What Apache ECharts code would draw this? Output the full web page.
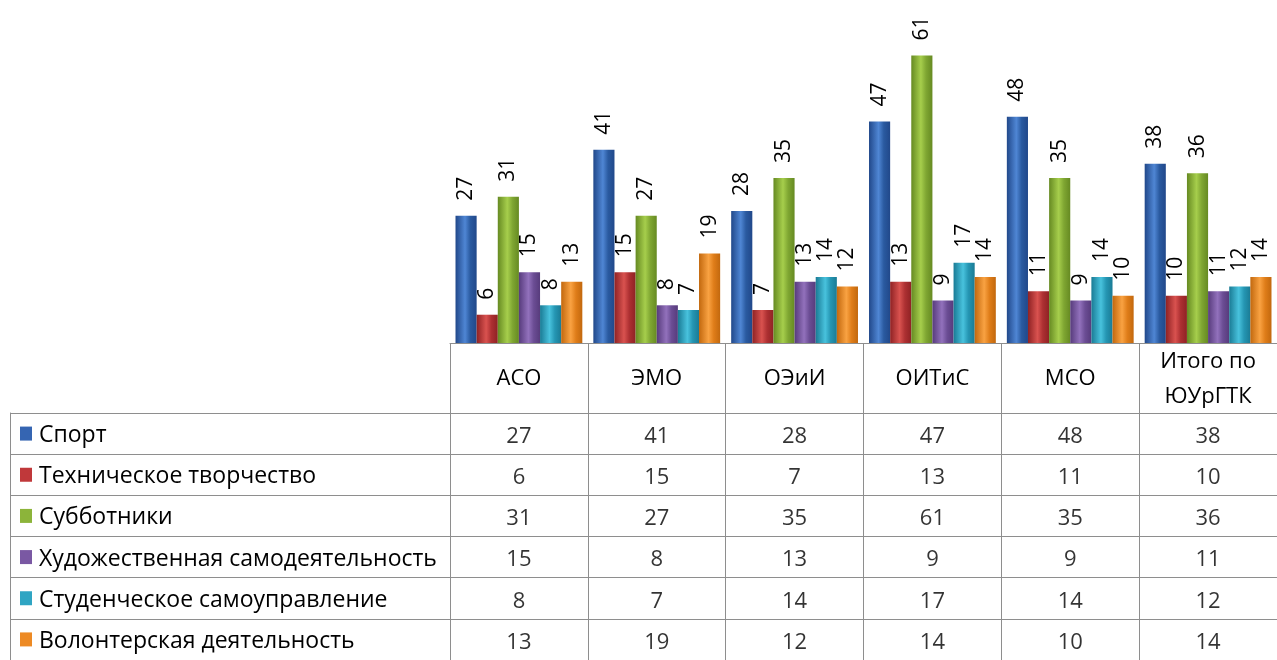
<!DOCTYPE html>
<html>
<head>
<meta charset="utf-8">
<script src="https://cdn.jsdelivr.net/npm/echarts@6/dist/echarts.min.js"></script>
<style>
html,body{margin:0;padding:0;background:#fff;}
#c{width:1277px;height:660px;}
</style>
</head>
<body>
<div id="c"></div>
<script>
const categories = ['АСО', 'ЭМО', 'ОЭиИ', 'ОИТиС', 'МСО', 'Итого по\nЮУрГТК'];
const seriesNames = ['Спорт', 'Техническое творчество', 'Субботники', 'Художественная самодеятельность', 'Студенческое самоуправление', 'Волонтерская деятельность'];
const sport = [27, 41, 28, 47, 48, 38];
const tech = [6, 15, 7, 13, 11, 10];
const subbot = [31, 27, 35, 61, 35, 36];
const art = [15, 8, 13, 9, 9, 11];
const selfGov = [8, 7, 14, 17, 14, 12];
const volunteer = [13, 19, 12, 14, 10, 14];
const allValues = [sport, tech, subbot, art, selfGov, volunteer];

const palette = [
  ['#21488a', '#4f86d4', '#2a5aa0'],
  ['#8f2224', '#d9524f', '#ad3032'],
  ['#668a22', '#a6ce4c', '#7fa632'],
  ['#573b7c', '#9271bc', '#6b4d94'],
  ['#1a7b95', '#48c2dd', '#2596b3'],
  ['#c2680e', '#f9a242', '#df7d19']
];
const legendColors = ['#3565b2', '#c0383a', '#8cb43a', '#7a58a3', '#2fa5c3', '#ed8a24'];
const FONT = 'Open Sans';
const LINE = '#8e8e8e';

function grad(p) {
  return new echarts.graphic.LinearGradient(0, 0, 1, 0, [
    {offset: 0, color: p[0]},
    {offset: 0.45, color: p[1]},
    {offset: 0.7, color: p[2]},
    {offset: 1, color: p[0]}
  ]);
}

const chart = echarts.init(document.getElementById('c'), null, {renderer: 'canvas'});

const barSeries = allValues.map((vals, i) => ({
  type: 'bar',
  name: seriesNames[i],
  xAxisIndex: 0, yAxisIndex: 0,
  data: vals,
  barGap: '0%',
  barCategoryGap: '8%',
  itemStyle: {color: grad(palette[i])},
  label: {
    show: true,
    position: 'top',
    rotate: 90,
    align: 'left',
    verticalAlign: 'middle',
    distance: 15,
    fontFamily: FONT,
    fontSize: 21,
    color: '#000'
  }
}));

const cellSeries = allValues.map((vals, i) => ({
  type: 'scatter',
  xAxisIndex: 1, yAxisIndex: 1,
  symbolSize: 1,
  itemStyle: {color: 'transparent'},
  silent: true,
  data: vals.map((v, j) => [j, i, v]),
  label: {
    show: true,
    position: 'inside',
    offset: [0, 3],
    formatter: p => String(p.data[2]),
    fontFamily: FONT,
    fontSize: 22,
    color: '#000'
  }
}));

const rich = {t: {fontFamily: FONT, fontSize: 23, color: '#000', padding: [4, 0, 0, 7]}};
legendColors.forEach((c, i) => {
  rich['s' + i] = {width: 12, height: 12, backgroundColor: c, padding: [2, 0, 0, 0]};
});

chart.setOption({
  animation: false,
  backgroundColor: '#fff',
  grid: [
    {left: 450, right: 0, top: 13, height: 330},
    {left: 450, right: 0, top: 413, bottom: -2}
  ],
  xAxis: [
    {
      type: 'category', gridIndex: 0, data: categories,
      axisLine: {lineStyle: {color: LINE, width: 1}},
      axisTick: {show: true, length: 70, alignWithLabel: false, lineStyle: {color: LINE, width: 1}},
      axisLabel: {interval: 0, margin: 36, verticalAlign: 'middle', fontFamily: FONT, fontSize: 22, color: '#000', lineHeight: 35}
    },
    {
      type: 'category', gridIndex: 1, data: categories,
      axisLine: {show: false},
      axisTick: {show: false},
      axisLabel: {show: false},
      splitLine: {show: true, lineStyle: {color: LINE, width: 1}}
    }
  ],
  yAxis: [
    {type: 'value', gridIndex: 0, min: 0, max: 70, show: false},
    {
      type: 'category', gridIndex: 1, data: seriesNames, inverse: true,
      position: 'left', offset: 440,
      axisLine: {show: true, lineStyle: {color: LINE, width: 1}},
      axisTick: {show: true, inside: true, length: 440, alignWithLabel: false, lineStyle: {color: LINE, width: 1}},
      axisLabel: {
        inside: true, margin: 10, interval: 0,
        formatter: (v, idx) => '{s' + idx + '|}{t|' + v + '}',
        rich: rich
      },
      splitLine: {show: true, lineStyle: {color: LINE, width: 1}}
    }
  ],
  series: barSeries.concat(cellSeries)
});
</script>
</body>
</html>
